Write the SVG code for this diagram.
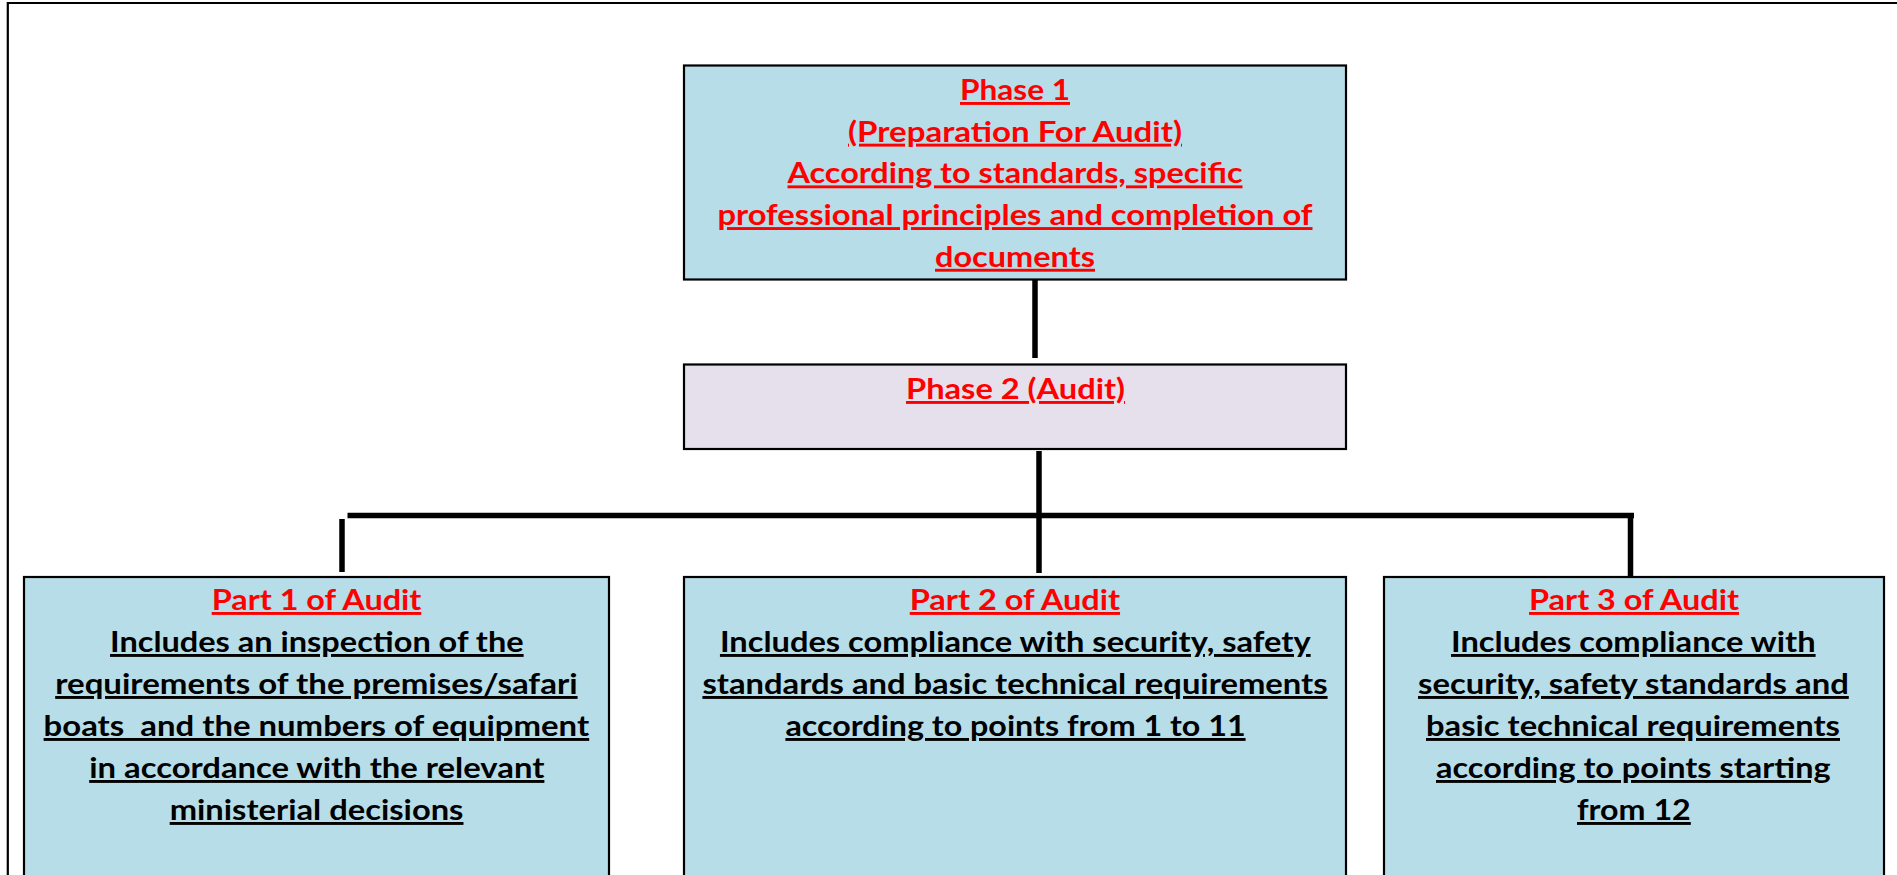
<svg xmlns="http://www.w3.org/2000/svg" width="1897" height="875" viewBox="0 0 1897 875">
  <style>
    .box { fill: #B7DDE8; stroke: #000; stroke-width: 2.2; }
    .box2 { fill: #E5E0EC; stroke: #000; stroke-width: 2.2; }
    .t { font-family: Lato, "Open Sans", "Liberation Sans", sans-serif; font-weight: bold; font-size: 29px; text-anchor: middle; text-decoration: underline; text-decoration-thickness: 3px; text-underline-offset: 4px; white-space: pre; }
    .red { fill: #FF0000; }
    .blk { fill: #000; }
    .conn { stroke: #000; stroke-width: 5.5; fill: none; }
    .frame { stroke: #000; stroke-width: 2.2; fill: none; }
  </style>
  <rect x="0" y="0" width="1897" height="875" fill="#FFFFFF"/>
  <path class="frame" d="M7.8,875 V3 H1897"/>

  <g id="connectors">
    <line class="conn" x1="1035" y1="280" x2="1035" y2="358"/>
    <line class="conn" x1="1039" y1="451" x2="1039" y2="573"/>
    <line class="conn" x1="347.5" y1="515.5" x2="1634" y2="515.5"/>
    <line class="conn" x1="342" y1="519" x2="342" y2="572"/>
    <line class="conn" x1="1630.5" y1="515.5" x2="1630.5" y2="577"/>
  </g>

  <g id="phase1">
    <rect class="box" x="684" y="65.5" width="662" height="214"/>
    <text class="t red" x="1015" y="100" textLength="110" lengthAdjust="spacingAndGlyphs">Phase 1</text>
    <text class="t red" x="1015" y="141.7" textLength="334" lengthAdjust="spacingAndGlyphs">(Preparation For Audit)</text>
    <text class="t red" x="1015" y="183.4" textLength="455" lengthAdjust="spacingAndGlyphs">According to standards, specific</text>
    <text class="t red" x="1015" y="225.1" textLength="595" lengthAdjust="spacingAndGlyphs">professional principles and completion of</text>
    <text class="t red" x="1015" y="266.8" textLength="160" lengthAdjust="spacingAndGlyphs">documents</text>
  </g>

  <g id="phase2">
    <rect class="box2" x="684" y="364.5" width="662" height="84.5"/>
    <text class="t red" x="1015.5" y="399" textLength="219" lengthAdjust="spacingAndGlyphs">Phase 2 (Audit)</text>
  </g>

  <g id="part1">
    <rect class="box" x="24" y="577" width="585" height="320"/>
    <text class="t red" x="316.5" y="610" textLength="209.6" lengthAdjust="spacingAndGlyphs">Part 1 of Audit</text>
    <text class="t blk" x="316.8" y="652" textLength="413.6" lengthAdjust="spacingAndGlyphs">Includes an inspection of the</text>
    <text class="t blk" x="316.4" y="694" textLength="522.4" lengthAdjust="spacingAndGlyphs">requirements of the premises/safari</text>
    <text class="t blk" x="316.4" y="736" textLength="545.6" lengthAdjust="spacingAndGlyphs" xml:space="preserve">boats  and the numbers of equipment</text>
    <text class="t blk" x="316.8" y="778" textLength="455.2" lengthAdjust="spacingAndGlyphs">in accordance with the relevant</text>
    <text class="t blk" x="316.6" y="820" textLength="293.8" lengthAdjust="spacingAndGlyphs">ministerial decisions</text>
  </g>

  <g id="part2">
    <rect class="box" x="684" y="577" width="662" height="320"/>
    <text class="t red" x="1014.9" y="610" textLength="210.3" lengthAdjust="spacingAndGlyphs">Part 2 of Audit</text>
    <text class="t blk" x="1015.3" y="652" textLength="590.7" lengthAdjust="spacingAndGlyphs">Includes compliance with security, safety</text>
    <text class="t blk" x="1015" y="694" textLength="625.2" lengthAdjust="spacingAndGlyphs">standards and basic technical requirements</text>
    <text class="t blk" x="1015.5" y="736" textLength="460.2" lengthAdjust="spacingAndGlyphs">according to points from 1 to 11</text>
  </g>

  <g id="part3">
    <rect class="box" x="1384" y="577" width="500" height="320"/>
    <text class="t red" x="1634" y="610" textLength="210" lengthAdjust="spacingAndGlyphs">Part 3 of Audit</text>
    <text class="t blk" x="1633.3" y="652" textLength="364.6" lengthAdjust="spacingAndGlyphs">Includes compliance with</text>
    <text class="t blk" x="1633.4" y="694" textLength="430.8" lengthAdjust="spacingAndGlyphs">security, safety standards and</text>
    <text class="t blk" x="1633" y="736" textLength="414" lengthAdjust="spacingAndGlyphs">basic technical requirements</text>
    <text class="t blk" x="1633.3" y="778" textLength="394.6" lengthAdjust="spacingAndGlyphs">according to points starting</text>
    <text class="t blk" x="1633.9" y="820" textLength="113.8" lengthAdjust="spacingAndGlyphs">from 12</text>
  </g>
</svg>
